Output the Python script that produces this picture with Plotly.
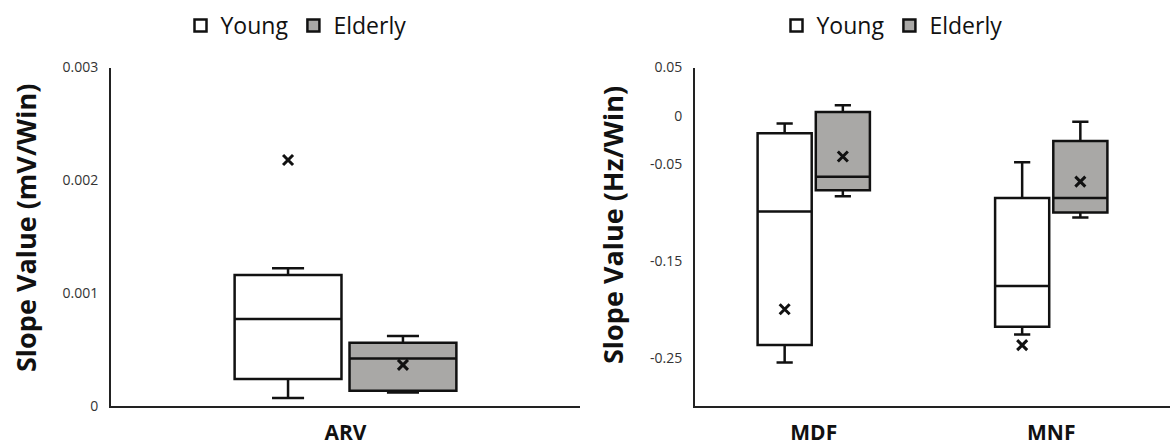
import plotly.graph_objects as go

# ---------------- data ----------------
groups = ["Young", "Elderly"]
left_categories = ["ARV"]
right_categories = ["MDF", "MNF"]

# ARV panel (mV/Win): one value per category
arv_young_lower = [0.00007]
arv_young_q1 = [0.00024]
arv_young_median = [0.00077]
arv_young_q3 = [0.00116]
arv_young_upper = [0.00122]
arv_young_mean = [0.00218]

arv_elderly_lower = [0.00012]
arv_elderly_q1 = [0.000136]
arv_elderly_median = [0.00042]
arv_elderly_q3 = [0.00056]
arv_elderly_upper = [0.00062]
arv_elderly_mean = [0.000365]

# MDF / MNF panel (Hz/Win)
young_lower = [-0.255, -0.226]
young_q1 = [-0.237, -0.218]
young_median = [-0.099, -0.176]
young_q3 = [-0.018, -0.085]
young_upper = [-0.008, -0.048]
young_mean = [-0.200, -0.237]

elderly_lower = [-0.083, -0.105]
elderly_q1 = [-0.077, -0.100]
elderly_median = [-0.063, -0.085]
elderly_q3 = [0.004, -0.026]
elderly_upper = [0.011, -0.006]
elderly_mean = [-0.042, -0.068]

left_tickvals = [0, 0.001, 0.002, 0.003]
left_ticktext = ["0", "0.001", "0.002", "0.003"]
right_tickvals = [0.05, 0, -0.05, -0.15, -0.25]
right_ticktext = ["0.05", "0", "-0.05", "-0.15", "-0.25"]

# ---------------- style ----------------
FONT = "Open Sans"
fills = {"Young": "#ffffff", "Elderly": "#a9a8a6"}
LINE = "#111111"

fig = go.Figure()


def add_box(cats, lo, q1, med, q3, hi, name, xa, ya, align, legend, show):
    fig.add_trace(go.Box(
        x=cats, lowerfence=lo, q1=q1, median=med, q3=q3, upperfence=hi,
        name=name, fillcolor=fills[name],
        line=dict(color=LINE, width=2.5),
        whiskerwidth=0.3, boxpoints=False,
        offsetgroup=name, alignmentgroup=align,
        xaxis=xa, yaxis=ya, legend=legend, showlegend=show,
        hoverinfo="skip",
    ))


def add_mean(cats, means, name, xa, ya):
    fig.add_trace(go.Scatter(
        x=cats, y=means, mode="markers", name=name + " mean",
        orientation="v",
        marker=dict(symbol="x-thin", size=10, line=dict(width=3, color=LINE)),
        xaxis=xa, yaxis=ya, showlegend=False, hoverinfo="skip",
    ))


add_box(left_categories, arv_young_lower, arv_young_q1, arv_young_median,
        arv_young_q3, arv_young_upper, "Young", "x", "y", "L", "legend", True)
add_box(left_categories, arv_elderly_lower, arv_elderly_q1, arv_elderly_median,
        arv_elderly_q3, arv_elderly_upper, "Elderly", "x", "y", "L", "legend", True)
add_box(right_categories, young_lower, young_q1, young_median,
        young_q3, young_upper, "Young", "x2", "y2", "R", "legend2", True)
add_box(right_categories, elderly_lower, elderly_q1, elderly_median,
        elderly_q3, elderly_upper, "Elderly", "x2", "y2", "R", "legend2", True)

add_mean(left_categories, arv_young_mean, "Young", "x", "y")
add_mean(left_categories, arv_elderly_mean, "Elderly", "x", "y")
add_mean(right_categories, young_mean, "Young", "x2", "y2")
add_mean(right_categories, elderly_mean, "Elderly", "x2", "y2")

W, H = 1170, 448
ydom = [(H - 406) / H, (H - 67.5) / H]

axis_common = dict(showgrid=False, zeroline=False, showline=True, automargin=False,
                   linecolor="#222222", linewidth=2, ticks="", fixedrange=True)

fig.update_layout(
    width=W, height=H,
    margin=dict(l=0, r=0, t=0, b=0, autoexpand=False),
    paper_bgcolor="white", plot_bgcolor="white",
    font=dict(family=FONT, color="#222222"),
    boxmode="group", boxgap=0.51, boxgroupgap=0.07,
    scattermode="group", scattergap=0.51,
    xaxis=dict(domain=[111 / W, 580 / W], anchor="y", type="category",
               tickfont=dict(size=21, weight="bold", color="#111111"),
               ticklabelstandoff=7, **axis_common),
    yaxis=dict(domain=ydom, anchor="x", range=[0, 0.003],
               tickvals=left_tickvals, ticktext=left_ticktext,
               tickfont=dict(size=14, color="#333333"),
               ticklabelstandoff=8, **axis_common),
    xaxis2=dict(domain=[695 / W, 1.0], anchor="y2", type="category",
                tickfont=dict(size=21, weight="bold", color="#111111"),
                ticklabelstandoff=7, **axis_common),
    yaxis2=dict(domain=ydom, anchor="x2", range=[-0.3, 0.05],
                tickvals=right_tickvals, ticktext=right_ticktext,
                tickfont=dict(size=14, color="#333333"),
                ticklabelstandoff=8, **axis_common),
    legend=dict(orientation="h", x=296 / W, xanchor="center", y=1 - 4 / H, yanchor="top",
                font=dict(size=23, color="#111111"), bgcolor="rgba(0,0,0,0)",
                itemclick=False, itemdoubleclick=False),
    legend2=dict(orientation="h", x=892 / W, xanchor="center", y=1 - 4 / H, yanchor="top",
                 font=dict(size=23, color="#111111"), bgcolor="rgba(0,0,0,0)",
                 itemclick=False, itemdoubleclick=False),
    annotations=[
        dict(text="Slope Value (mV/Win)", xref="paper", yref="paper",
             x=25 / W, y=(H - 228) / H, textangle=-90, showarrow=False,
             xanchor="center", yanchor="middle",
             font=dict(size=27, weight="bold", color="#111111")),
        dict(text="Slope Value (Hz/Win)", xref="paper", yref="paper",
             x=613 / W, y=(H - 225) / H, textangle=-90, showarrow=False,
             xanchor="center", yanchor="middle",
             font=dict(size=27, weight="bold", color="#111111")),
    ],
)

fig.write_html("out.html", config={"displayModeBar": False},
               post_script="document.body.style.margin='0';")
